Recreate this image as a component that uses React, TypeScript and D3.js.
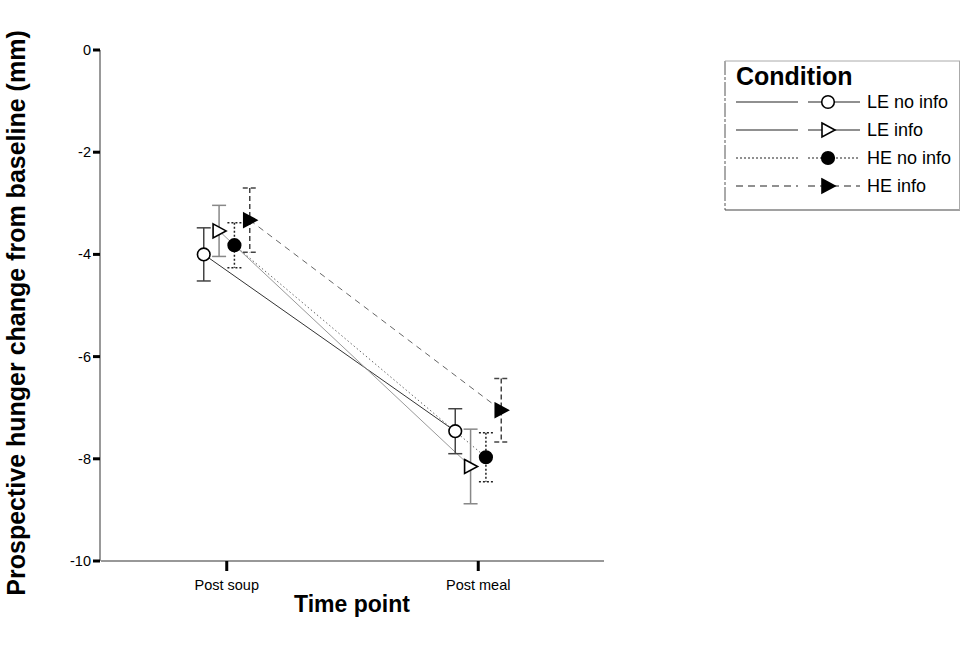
import React from "react";
import * as d3 from "d3";

const timePoints = ["Post soup", "Post meal"];
const conditions = ["LE no info", "LE info", "HE no info", "HE info"];
const meanLENoInfo = [-4.0, -7.46];
const meanLEInfo = [-3.54, -8.15];
const meanHENoInfo = [-3.82, -7.97];
const meanHEInfo = [-3.33, -7.05];
const errLENoInfo = [0.52, 0.44];
const errLEInfo = [0.5, 0.73];
const errHENoInfo = [0.44, 0.48];
const errHEInfo = [0.63, 0.62];
const yTicks = [0, -2, -4, -6, -8, -10];

const means = [meanLENoInfo, meanLEInfo, meanHENoInfo, meanHEInfo];
const errs = [errLENoInfo, errLEInfo, errHENoInfo, errHEInfo];

const styles = [
  { line: "#333", lineDash: "", legDash: "", err: "#444", errDash: "", marker: "circle", filled: false },
  { line: "#999", lineDash: "", legDash: "", err: "#888", errDash: "", marker: "tri", filled: false },
  { line: "#666", lineDash: "1.5,2.5", legDash: "2,2", err: "#222", errDash: "2,2", marker: "circle", filled: true },
  { line: "#666", lineDash: "6,5", legDash: "7,5", err: "#444", errDash: "5,3", marker: "tri", filled: true },
];

const FONT = "'Liberation Sans', Arial, Helvetica, sans-serif";

function Marker({ kind, filled, x, y }: { kind: string; filled: boolean; x: number; y: number }) {
  if (kind === "circle") {
    return (
      <circle cx={x} cy={y} r={6.3} fill={filled ? "#000" : "#fff"} stroke="#000" strokeWidth={1.6} />
    );
  }
  const pts = `${x - 6},${y - 7} ${x + 7},${y} ${x - 6},${y + 7}`;
  return <polygon points={pts} fill={filled ? "#000" : "#fff"} stroke="#000" strokeWidth={1.6} />;
}

export default function App() {
  const W = 961;
  const H = 646;
  const x = d3.scaleLinear().domain([0.5, 2.5]).range([101, 604]);
  const y = d3.scaleLinear().domain([-10, 0]).range([561, 50]);
  const dodge = d3.scalePoint<string>().domain(conditions).range([-23, 23]);
  const lineGen = d3
    .line<[number, number]>()
    .x((d) => d[0])
    .y((d) => d[1]);

  const legendY = d3.scalePoint<string>().domain(conditions).range([102, 186]);

  return (
    <svg
      width={W}
      height={H}
      style={{ position: "absolute", left: 0, top: 0, background: "#fff" }}
      fontFamily={FONT}
    >
      <rect x={0} y={0} width={W} height={H} fill="#fff" />
      {/* Y axis */}
      <line x1={100} x2={100} y1={y(0)} y2={y(-10)} stroke="#777" strokeWidth={1.5} />
      {yTicks.map((t) => (
        <g key={t}>
          <line x1={93} x2={100} y1={y(t)} y2={y(t)} stroke="#000" strokeWidth={3} />
          <text x={91} y={y(t)} dy="0.35em" textAnchor="end" fontSize={14.5}>
            {String(t)}
          </text>
        </g>
      ))}
      {/* X axis */}
      <line x1={x(0.5)} x2={x(2.5)} y1={561} y2={561} stroke="#333" strokeWidth={1.2} />
      {timePoints.map((tp, i) => (
        <g key={tp}>
          <line x1={x(i + 1)} x2={x(i + 1)} y1={561} y2={571} stroke="#000" strokeWidth={3} />
          <text x={x(i + 1)} y={590} textAnchor="middle" fontSize={14.5}>
            {tp}
          </text>
        </g>
      ))}
      {/* Axis titles */}
      <text
        transform={`translate(25, ${313}) rotate(-90)`}
        textAnchor="middle"
        fontSize={25}
        fontWeight="bold"
      >
        Prospective hunger change from baseline (mm)
      </text>
      <text x={352} y={612} textAnchor="middle" fontSize={23} fontWeight="bold">
        Time point
      </text>

      {/* Connecting lines */}
      {conditions.map((c, ci) => {
        const pts: [number, number][] = means[ci].map((m, ti) => [x(ti + 1) + (dodge(c) as number), y(m)]);
        return (
          <path
            key={c}
            d={lineGen(pts) || ""}
            fill="none"
            stroke={styles[ci].line}
            strokeWidth={1}
            strokeDasharray={styles[ci].lineDash}
          />
        );
      })}
      {/* Error bars and markers */}
      {conditions.map((c, ci) =>
        means[ci].map((m, ti) => {
          const cx = x(ti + 1) + (dodge(c) as number);
          const e = errs[ci][ti];
          const st = styles[ci];
          return (
            <g key={c + ti}>
              <line x1={cx} x2={cx} y1={y(m + e)} y2={y(m - e)} stroke={st.err} strokeWidth={1.5} strokeDasharray={st.errDash} />
              <line x1={cx - 7} x2={cx + 7} y1={y(m + e)} y2={y(m + e)} stroke={st.err} strokeWidth={1.5} strokeDasharray={st.errDash} />
              <line x1={cx - 7} x2={cx + 7} y1={y(m - e)} y2={y(m - e)} stroke={st.err} strokeWidth={1.5} strokeDasharray={st.errDash} />
              <Marker kind={st.marker} filled={st.filled} x={cx} y={y(m)} />
            </g>
          );
        })
      )}

      {/* Legend */}
      <g>
        <line x1={725} x2={725} y1={61} y2={210} stroke="#555" strokeWidth={1} strokeDasharray="14,2,3,2" />
        <line x1={725} x2={960} y1={210} y2={210} stroke="#444" strokeWidth={1.2} />
        <line x1={725} x2={960} y1={61} y2={61} stroke="#aaa" strokeWidth={1} />
        <line x1={959.5} x2={959.5} y1={61} y2={210} stroke="#aaa" strokeWidth={1} />
        <text x={736} y={85} fontSize={25} fontWeight="bold">
          Condition
        </text>
        {conditions.map((c, ci) => {
          const ly = legendY(c) as number;
          const st = styles[ci];
          return (
            <g key={c}>
              <line x1={736} x2={798} y1={ly} y2={ly} stroke="#222" strokeWidth={1.1} strokeDasharray={st.legDash} />
              <line x1={808} x2={860} y1={ly} y2={ly} stroke="#222" strokeWidth={1.1} strokeDasharray={st.legDash} />
              <Marker kind={st.marker} filled={st.filled} x={828} y={ly} />
              <text x={867} y={ly} dy="0.35em" fontSize={18}>
                {c}
              </text>
            </g>
          );
        })}
      </g>
    </svg>
  );
}
